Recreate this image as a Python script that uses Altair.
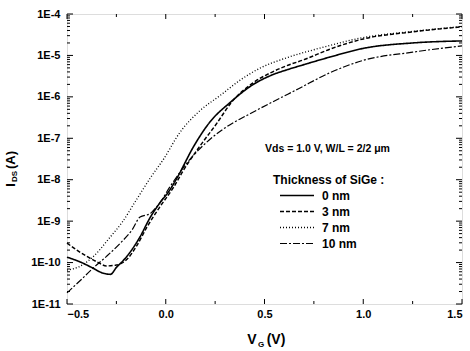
import altair as alt
import pandas as pd

FONT = "Liberation Sans"

# ---- data (gate voltage V, drain current A) ----
v_0nm = [-0.5, -0.43, -0.37, -0.32, -0.28, -0.25, -0.2, -0.13, -0.08, -0.03, 0.02, 0.06,
         0.14, 0.22, 0.33, 0.44, 0.54, 0.62, 0.7, 0.83, 1.0, 1.25, 1.5]
i_0nm = [1.35e-10, 1.02e-10, 7.4e-11, 5.6e-11, 5.2e-11, 7.6e-11, 1.35e-10, 4.2e-10, 1.2e-9,
         2.75e-9, 5.6e-9, 1.17e-8, 6.2e-8, 2.35e-7, 7.6e-7, 1.95e-6, 3.4e-6, 4.6e-6, 6.0e-6,
         9.1e-6, 1.48e-5, 2.0e-5, 2.24e-5]

v_3nm = [-0.5, -0.45, -0.4, -0.35, -0.3, -0.25, -0.2, -0.15, -0.095, -0.03, 0.04, 0.09,
         0.17, 0.26, 0.33, 0.44, 0.53, 0.61, 0.7, 0.83, 1.0, 1.25, 1.5]
i_3nm = [2.95e-10, 2.0e-10, 1.41e-10, 1.05e-10, 8.3e-11, 8.7e-11, 1.15e-10, 2.4e-10, 7.2e-10,
         2.2e-9, 6.6e-9, 1.7e-8, 6.2e-8, 2.35e-7, 7.1e-7, 2.14e-6, 3.8e-6, 5.6e-6, 7.9e-6,
         1.41e-5, 2.5e-5, 3.7e-5, 4.9e-5]

v_7nm = [-0.5, -0.44, -0.37, -0.28, -0.22, -0.15, -0.08, -0.01, 0.07, 0.17, 0.28, 0.38,
         0.48, 0.61, 0.78, 1.0, 1.25, 1.5]
i_7nm = [6.6e-11, 7.9e-11, 1.35e-10, 4.2e-10, 9.5e-10, 3.2e-9, 1.07e-8, 3.2e-8, 1.35e-7,
         4.5e-7, 1.12e-6, 2.6e-6, 5.0e-6, 8.7e-6, 1.5e-5, 2.7e-5, 3.8e-5, 5.0e-5]

v_10nm = [-0.5, -0.43, -0.37, -0.3, -0.23, -0.17, -0.13, -0.08, -0.06, -0.03, 0.02, 0.12,
          0.22, 0.34, 0.41, 0.53, 0.67, 0.83, 1.0, 1.25, 1.5]
i_10nm = [1.86e-11, 3.8e-11, 7.2e-11, 1.41e-10, 2.95e-10, 6.2e-10, 1.26e-9, 1.51e-9, 1.86e-9,
          2.75e-9, 6.6e-9, 3.0e-8, 9.1e-8, 2.35e-7, 3.55e-7, 7.1e-7, 1.55e-6, 3.8e-6, 7.6e-6,
          1.2e-5, 1.7e-5]

series = ["0 nm", "3 nm", "7 nm", "10 nm"]

# axis tick positions
x_major = [-0.5, 0.0, 0.5, 1.0, 1.5]
x_minor = [-0.25, 0.25, 0.75, 1.25]
y_major = [1e-11, 1e-10, 1e-9, 1e-8, 1e-7, 1e-6, 1e-5, 1e-4]
y_minor = [m * d for d in y_major[:-1] for m in range(2, 10)]

rows = []
for name, vs, cs in zip(series, [v_0nm, v_3nm, v_7nm, v_10nm],
                        [i_0nm, i_3nm, i_7nm, i_10nm]):
    for v, c in zip(vs, cs):
        rows.append({"series": name, "V": v, "I": c})
df = pd.DataFrame(rows)

W, H = 395, 290
xscale = alt.Scale(domain=[-0.5, 1.5], nice=False, zero=False)
yscale = alt.Scale(type="log", domain=[1e-11, 1e-4], nice=False)

xaxis = alt.Axis(values=x_major, format=".1f", title=None, ticks=False,
                 domain=False, grid=False, labelFont=FONT, labelFontSize=11,
                 labelFontWeight="bold", labelColor="black", labelPadding=4)
yaxis = alt.Axis(values=y_major, title=None, ticks=False, domain=False, grid=False,
                 labelExpr="'1E' + round(log(datum.value) / LN10)",
                 labelFont=FONT, labelFontSize=11, labelFontWeight="bold",
                 labelColor="black", labelPadding=7)

lines = alt.Chart(df).mark_line(color="black", strokeCap="butt",
                                interpolate="monotone").encode(
    x=alt.X("V:Q", scale=xscale, axis=xaxis),
    y=alt.Y("I:Q", scale=yscale, axis=yaxis),
    strokeDash=alt.StrokeDash(
        "series:N",
        scale=alt.Scale(domain=series, range=[[1, 0], [4, 2], [1, 2], [7, 2, 2, 2]]),
        legend=alt.Legend(orient="none", legendX=206, legendY=161,
                          title="Thickness of SiGe :", titleFont=FONT, titleFontSize=12,
                          titleFontWeight="bold", titleColor="black", titlePadding=-1,
                          labelFont=FONT, labelFontSize=12, labelFontWeight="bold",
                          labelColor="black", labelOffset=15.5,
                          symbolType="M-2,0H2", symbolSize=289, symbolStrokeWidth=1.2,
                          symbolStrokeColor="black", symbolOffset=14.5, rowPadding=0,
                          padding=0)),
    strokeWidth=alt.StrokeWidth("series:N",
                                scale=alt.Scale(domain=series, range=[1.6, 1.2, 1.0, 1.2]),
                                legend=None),
    detail="series:N",
)


def yticks(vals, length, right=False):
    d = pd.DataFrame({"I": vals})
    x0, x1 = (W - length, W) if right else (0, length)
    return alt.Chart(d).mark_rule(color="black", strokeWidth=1).encode(
        y=alt.Y("I:Q", scale=yscale, axis=yaxis),
        x=alt.value(x0), x2=alt.value(x1))


def xticks(vals, length, top=False):
    d = pd.DataFrame({"V": vals})
    y0, y1 = (0, length) if top else (H - length, H)
    return alt.Chart(d).mark_rule(color="black", strokeWidth=1).encode(
        x=alt.X("V:Q", scale=xscale, axis=xaxis),
        y=alt.value(y0), y2=alt.value(y1))


def label(text, x, y, size, angle=0, align="center", baseline="middle", style="normal"):
    return alt.Chart(alt.Data(values=[{"k": 1}])).mark_text(
        text=text, font=FONT, fontSize=size, fontWeight="bold", fontStyle=style,
        angle=angle, align=align, baseline=baseline, color="black").encode(
        x=alt.value(x), y=alt.value(y))


ticks = [
    yticks(y_major, 6), yticks(y_minor, 3),
    yticks(y_major, 6, right=True), yticks(y_minor, 3, right=True),
    xticks(x_major, 5), xticks(x_minor, 3),
    xticks(x_major, 5, top=True), xticks(x_minor, 3, top=True),
]

texts = [
    label("Vds = 1.0 V, W/L = 2/2 \u03bcm", 198, 135, 10.5, align="left"),
    # y title  I_DS (A)
    label("I", -56, 171, 13, angle=270),
    label("DS", -52.5, 162.5, 8, angle=270),
    label("(A)", -56.5, 146, 13, angle=270),
    # x title  V_G (V)
    label("V", 185, 326, 14),
    label("G", 194, 331, 8),
    label("(V)", 209, 326, 14),
]

chart = alt.layer(lines, *ticks, *texts).properties(
    width=W, height=H,
    autosize=alt.AutoSizeParams(type="none"),
    padding={"left": 67, "top": 14, "right": 8, "bottom": 47},
).configure_view(stroke="black", strokeWidth=1.6).configure(background="white")

chart.save("out.html", embed_options={"renderer": "svg", "actions": False})
